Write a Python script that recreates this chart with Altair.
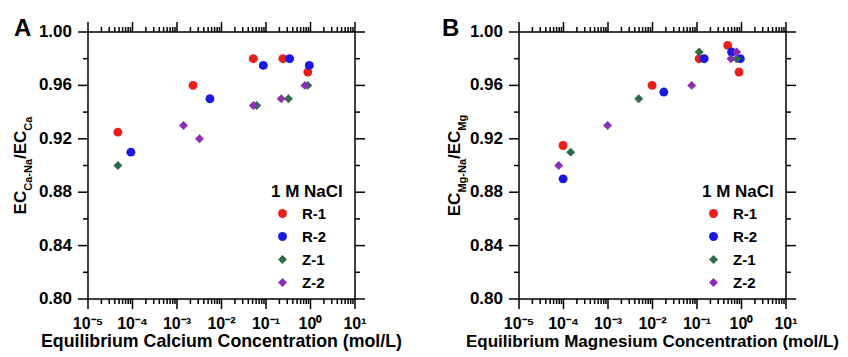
import altair as alt
import pandas as pd

# ---------------- data ----------------
series_names = ["R-1", "R-2", "Z-1", "Z-2"]
series_colors = ["#e8201c", "#1a1adf", "#2e6b4a", "#8b2fb5"]
series_shapes = ["circle", "circle", "diamond", "diamond"]
series_sizes = [80, 80, 45, 45]

# Panel A: calcium
ca_r1_x = [4.7e-5, 2.3e-3, 0.052, 0.24, 0.87]
ca_r1_y = [0.925, 0.960, 0.980, 0.980, 0.970]
ca_r2_x = [9.2e-5, 5.5e-3, 0.087, 0.34, 0.94]
ca_r2_y = [0.910, 0.950, 0.975, 0.980, 0.975]
ca_z1_x = [4.7e-5, 0.062, 0.32, 0.87]
ca_z1_y = [0.900, 0.945, 0.950, 0.960]
ca_z2_x = [1.4e-3, 3.2e-3, 0.052, 0.22, 0.75]
ca_z2_y = [0.930, 0.920, 0.945, 0.950, 0.960]

# Panel B: magnesium
mg_r1_x = [9.8e-5, 0.0098, 0.112, 0.49, 0.88]
mg_r1_y = [0.915, 0.960, 0.980, 0.990, 0.970]
mg_r2_x = [9.8e-5, 0.018, 0.145, 0.60, 0.94]
mg_r2_y = [0.890, 0.955, 0.980, 0.985, 0.980]
mg_z1_x = [1.45e-4, 4.9e-3, 0.112, 0.78]
mg_z1_y = [0.910, 0.950, 0.985, 0.980]
mg_z2_x = [7.8e-5, 9.8e-4, 0.076, 0.58, 0.78]
mg_z2_y = [0.900, 0.930, 0.960, 0.980, 0.985]

x_major = [1e-5, 1e-4, 1e-3, 1e-2, 1e-1, 1.0, 10.0]
x_minor = [k * 10.0 ** e for e in range(-5, 1) for k in range(2, 10)]
x_labels = ["10⁻⁵", "10⁻⁴", "10⁻³", "10⁻²", "10⁻¹", "10⁰", "10¹"]
y_major = [0.80, 0.84, 0.88, 0.92, 0.96, 1.00]
y_labels = ["0.80", "0.84", "0.88", "0.92", "0.96", "1.00"]
y_minor = [0.82, 0.86, 0.90, 0.94, 0.98]

FONT = "Liberation Sans, Arial, Helvetica, sans-serif"
W = 267
H = 267
MAJ = 10
MIN = 5
LW = 1.5


def make_df(xs_list, ys_list):
    rows = []
    for name, xs, ys in zip(series_names, xs_list, ys_list):
        for xv, yv in zip(xs, ys):
            rows.append({"x": xv, "y": yv, "series": name})
    return pd.DataFrame(rows)


df_a = make_df([ca_r1_x, ca_r2_x, ca_z1_x, ca_z2_x], [ca_r1_y, ca_r2_y, ca_z1_y, ca_z2_y])
df_b = make_df([mg_r1_x, mg_r2_x, mg_z1_x, mg_z2_x], [mg_r1_y, mg_r2_y, mg_z1_y, mg_z2_y])

XSCALE = alt.Scale(type="log", domain=[1e-5, 10], nice=False)
YSCALE = alt.Scale(domain=[0.8, 1.0], nice=False, zero=False)


def text_layer(text, x, y, size, angle=0, align="left"):
    return alt.Chart(pd.DataFrame({"t": [text]})).mark_text(
        font=FONT, fontWeight="bold", fontSize=size, angle=angle,
        align=align, baseline="alphabetic", color="black",
    ).encode(text="t:N", x=alt.value(x), y=alt.value(y))


def ytitle_layers(sub1, sub2, big_x, sub_x):
    widths = {"E": 667, "C": 722, "a": 556, "-": 333, "N": 722, "/": 278, "M": 833, "g": 611}

    def w(s, fs):
        return sum(widths[c] for c in s) * fs / 1000.0
    big, small = 17, 11
    pieces = [("EC", big, big_x), (sub1, small, sub_x), ("/EC", big, big_x), (sub2, small, sub_x)]
    total = sum(w(p[0], p[1]) for p in pieces)
    y = H / 2 + total / 2
    layers = []
    for s, fs, xx in pieces:
        layers.append(text_layer(s, xx, y, fs, angle=270))
        y -= w(s, fs)
    return layers


def xticks(vals, y0, y1):
    return alt.Chart(pd.DataFrame({"v": vals})).mark_rule(color="black", strokeWidth=LW).encode(
        x=alt.X("v:Q", scale=XSCALE, axis=None), y=alt.value(y0), y2=alt.value(y1))


def yticks(vals, x0, x1):
    return alt.Chart(pd.DataFrame({"v": vals})).mark_rule(color="black", strokeWidth=LW).encode(
        y=alt.Y("v:Q", scale=YSCALE, axis=None), x=alt.value(x0), x2=alt.value(x1))


def xtick_labels():
    return alt.Chart(pd.DataFrame({"v": x_major, "t": x_labels})).mark_text(
        font=FONT, fontWeight="bold", fontSize=16, align="center", baseline="alphabetic", color="black",
    ).encode(x=alt.X("v:Q", scale=XSCALE, axis=None), y=alt.value(H + 30), text="t:N")


def ytick_labels():
    return alt.Chart(pd.DataFrame({"v": y_major, "t": y_labels})).mark_text(
        font=FONT, fontWeight="bold", fontSize=17, align="right", baseline="middle", color="black",
    ).encode(y=alt.Y("v:Q", scale=YSCALE, axis=None), x=alt.value(-16), text="t:N")


def panel(df, letter, letter_x, sub1, sub2, big_x, sub_x, xtitle, xtitle_size):
    legend = alt.Legend(
        title="1 M NaCl", orient="none", legendX=183, legendY=152, padding=0,
        titleFont=FONT, titleFontSize=17, titleFontWeight="bold", titleColor="black",
        titlePadding=5, labelFont=FONT, labelFontSize=15, labelFontWeight="bold",
        labelColor="black", symbolOffset=4, labelOffset=12, rowPadding=7,
        symbolStrokeWidth=0,
    )
    pts = alt.Chart(df).mark_point(filled=True, opacity=1).encode(
        x=alt.X("x:Q", scale=XSCALE, axis=None),
        y=alt.Y("y:Q", scale=YSCALE, axis=None),
        color=alt.Color("series:N", scale=alt.Scale(domain=series_names, range=series_colors), legend=legend),
        shape=alt.Shape("series:N", scale=alt.Scale(domain=series_names, range=series_shapes), legend=legend),
        size=alt.Size("series:N", scale=alt.Scale(domain=series_names, range=series_sizes), legend=legend),
    )

    guard = alt.Chart(pd.DataFrame({"g": [0]})).mark_rule(opacity=0, strokeWidth=0.01).encode(
        x=alt.value(-79), x2=alt.value(-79), y=alt.value(-23), y2=alt.value(-23))

    layers = [
        xticks(x_major, H, H + MAJ), xticks(x_minor, H, H + MIN),
        xticks(x_major, 0, -MAJ), xticks(x_minor, 0, -MIN),
        yticks(y_major, 0, -MAJ), yticks(y_minor, 0, -MIN),
        yticks(y_major, W, W + MAJ), yticks(y_minor, W, W + MIN),
        xtick_labels(), ytick_labels(),
        pts,
        text_layer(letter, letter_x, 4, 24),
        text_layer(xtitle, W / 2, H + 48, xtitle_size, align="center"),
        guard,
    ]
    layers += ytitle_layers(sub1, sub2, big_x, sub_x)
    return alt.layer(*layers).properties(width=W, height=H)


pa = panel(df_a, "A", -74, "Ca-Na", "Ca", -62, -56.5,
           "Equilibrium Calcium Concentration (mol/L)", 17.75)
pb = panel(df_b, "B", -77, "Mg-Na", "Mg", -59, -53.5,
           "Equilibrium Magnesium Concentration (mol/L)", 17)

chart = alt.hconcat(pa, pb, spacing=164, bounds="flush").resolve_scale(
    color="independent", shape="independent", size="independent"
).properties(
    padding={"left": 0, "top": 0, "right": 0, "bottom": 0}
).configure_view(stroke="black", strokeWidth=LW)

chart.save("out.html", embed_options={"renderer": "svg", "actions": False})
